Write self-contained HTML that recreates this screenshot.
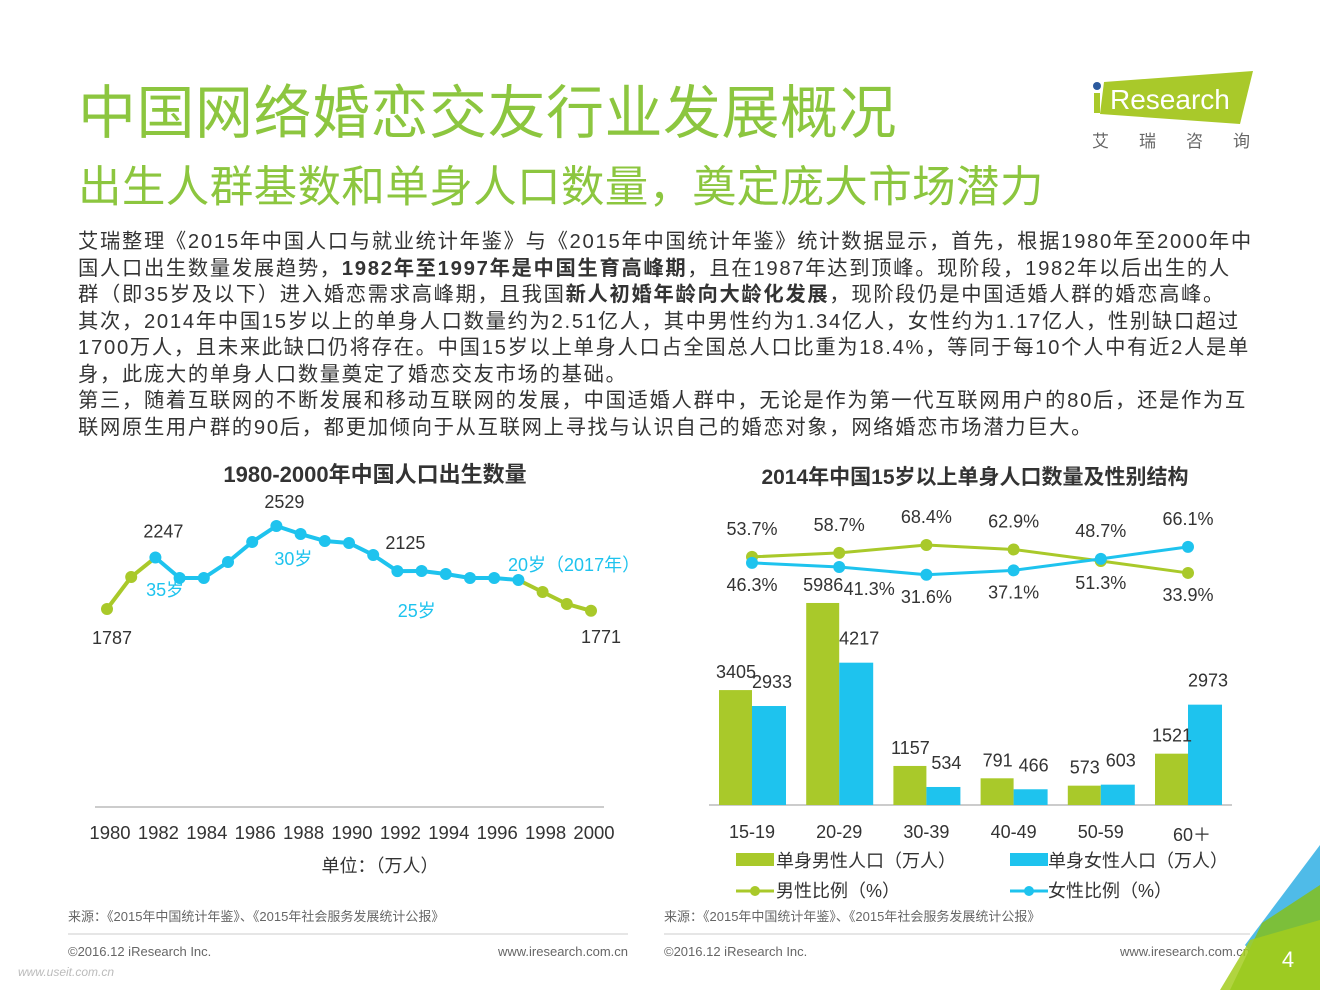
<!DOCTYPE html>
<html><head><meta charset="utf-8"><style>
body{margin:0;width:1320px;height:990px;background:#fff;overflow:hidden;position:relative;font-family:"Liberation Sans","Noto Sans CJK SC",sans-serif;color:#333}
.abs{position:absolute;white-space:nowrap}
.title{left:78px;top:66px;font-size:58px;color:#8cc63f;letter-spacing:0.5px}
.sub{left:78px;top:152px;font-size:43.5px;color:#8cc63f;letter-spacing:0.4px}
.body{left:78px;top:229px;font-size:20.3px;line-height:26.5px;color:#333;letter-spacing:1.7px}
.body b{font-weight:bold}
</style></head><body>
<div class="abs title">中国网络婚恋交友行业发展概况</div>
<div class="abs sub">出生人群基数和单身人口数量，奠定庞大市场潜力</div>
<div class="abs body">艾瑞整理《2015年中国人口与就业统计年鉴》与《2015年中国统计年鉴》统计数据显示，首先，根据1980年至2000年中<br>国人口出生数量发展趋势，<b>1982年至1997年是中国生育高峰期</b>，且在1987年达到顶峰。现阶段，1982年以后出生的人<br>群（即35岁及以下）进入婚恋需求高峰期，且我国<b>新人初婚年龄向大龄化发展</b>，现阶段仍是中国适婚人群的婚恋高峰。<br>其次，2014年中国15岁以上的单身人口数量约为2.51亿人，其中男性约为1.34亿人，女性约为1.17亿人，性别缺口超过<br>1700万人，且未来此缺口仍将存在。中国15岁以上单身人口占全国总人口比重为18.4%，等同于每10个人中有近2人是单<br>身，此庞大的单身人口数量奠定了婚恋交友市场的基础。<br>第三，随着互联网的不断发展和移动互联网的发展，中国适婚人群中，无论是作为第一代互联网用户的80后，还是作为互<br>联网原生用户群的90后，都更加倾向于从互联网上寻找与认识自己的婚恋对象，网络婚恋市场潜力巨大。</div>

<svg class="abs" style="left:0;top:0" width="1320" height="990">
<g>
<polygon points="1104,82 1253,71 1240,124 1100,114" fill="#a9c92a"/>
<circle cx="1097" cy="86" r="4" fill="#2c5a9e"/>
<rect x="1094" y="93" width="6" height="20" fill="#a9c92a"/>
<text x="1110" y="109" font-size="28" fill="#fff" font-family="Liberation Sans,sans-serif">Research</text>
<text x="1092" y="147" font-size="17" fill="#666" font-family="Noto Sans CJK SC,sans-serif" letter-spacing="30">艾瑞咨询</text>
</g>
<text x="375" y="482" text-anchor="middle" font-size="22" font-weight="bold" fill="#333">1980-2000年中国人口出生数量</text>
<text x="975" y="484" text-anchor="middle" font-size="21" font-weight="bold" fill="#333">2014年中国15岁以上单身人口数量及性别结构</text>
<line x1="95" y1="807" x2="604" y2="807" stroke="#999" stroke-width="1"/>
<g id="leftChart"></g>
<text x="380" y="872" text-anchor="middle" font-size="18" fill="#333">单位：（万人）</text>
<line x1="709" y1="805" x2="1232" y2="805" stroke="#999" stroke-width="1"/>
<g id="rightChart"></g>
<g font-size="18" fill="#333">
<rect x="736" y="853" width="38" height="13" fill="#a9c92a"/><text x="776" y="867">单身男性人口（万人）</text>
<rect x="1010" y="853" width="38" height="13" fill="#1ec3ee"/><text x="1048" y="867">单身女性人口（万人）</text>
<line x1="736" y1="891" x2="774" y2="891" stroke="#a9c92a" stroke-width="3"/><circle cx="755" cy="891" r="5" fill="#a9c92a"/><text x="776" y="897">男性比例（%）</text>
<line x1="1010" y1="891" x2="1048" y2="891" stroke="#1ec3ee" stroke-width="3"/><circle cx="1029" cy="891" r="5" fill="#1ec3ee"/><text x="1048" y="897">女性比例（%）</text>
</g>
<g font-size="13" fill="#666">
<text x="68" y="921">来源：《2015年中国统计年鉴》、《2015年社会服务发展统计公报》</text>
<text x="664" y="921">来源：《2015年中国统计年鉴》、《2015年社会服务发展统计公报》</text>
<line x1="68" y1="934" x2="628" y2="934" stroke="#ccc"/>
<line x1="664" y1="934" x2="1250" y2="934" stroke="#ccc"/>
<text x="68" y="956" font-family="Liberation Sans,sans-serif">©2016.12 iResearch Inc.</text>
<text x="628" y="956" text-anchor="end" font-family="Liberation Sans,sans-serif">www.iresearch.com.cn</text>
<text x="664" y="956" font-family="Liberation Sans,sans-serif">©2016.12 iResearch Inc.</text>
<text x="1250" y="956" text-anchor="end" font-family="Liberation Sans,sans-serif">www.iresearch.com.cn</text>
<text x="18" y="976" font-size="12" fill="#bbb" font-style="italic">www.useit.com.cn</text>
</g>
<g>
<polygon points="1245,945 1320,845 1320,990 1280,990" fill="#4fbbe8"/>
<polygon points="1262,923 1320,885 1320,990 1230,990" fill="#7cbf3a"/>
<polygon points="1250,940 1320,920 1320,990 1220,990" fill="#a3cc1e" opacity="0.85"/>
<text x="1288" y="967" text-anchor="middle" font-size="22" fill="#fff" font-family="Liberation Sans,sans-serif">4</text>
</g>
</svg>

<script>
const years=["1980","1981","1982","1983","1984","1985","1986","1987","1988","1989","1990","1991","1992","1993","1994","1995","1996","1997","1998","1999","2000"];
const births=[1787,2073,2247,2064,2064,2207,2386,2529,2457,2395,2377,2270,2125,2127,2100,2064,2064,2046,1939,1832,1771];
const xTicks=["1980","1982","1984","1986","1988","1990","1992","1994","1996","1998","2000"];
const ageGroups=["15-19","20-29","30-39","40-49","50-59","60＋"];
const malePop=[3405,5986,1157,791,573,1521];
const femalePop=[2933,4217,534,466,603,2973];
const maleRatio=[53.7,58.7,68.4,62.9,48.7,33.9];
const femaleRatio=[46.3,41.3,31.6,37.1,51.3,66.1];

const NS="http://www.w3.org/2000/svg";
function mk(p,t,a){const e=document.createElementNS(NS,t);for(const k in a)e.setAttribute(k,a[k]);p.appendChild(e);return e;}
const G="#a9c92a",B="#1ec3ee";

// left chart
const L=document.getElementById('leftChart');
const lx=i=>107+i*24.2;
const ly=v=>609-(v-1787)*0.1119;
function segColor(i){return (i<2||i>=17)?G:B;}
for(let i=0;i<births.length-1;i++){
  const s=mk(L,'line',{x1:lx(i),y1:ly(births[i]),x2:lx(i+1),y2:ly(births[i+1]),stroke:segColor(i),'stroke-width':4});
  
  
}
births.forEach((v,i)=>{
  const c=mk(L,'circle',{cx:lx(i),cy:ly(v),r:6,fill:(i<2||i>17)?G:B});
  
  
});
const lblIdx=[[0,20],[2,-20],[7,-18],[12,-22],[20,32]];
lblIdx.forEach(([i,dy])=>{
  const t=mk(L,'text',{x:lx(i)+(i==0?5:i==20?10:8),y:ly(births[i])+dy+(i==0?15:0),'text-anchor':'middle','font-size':18,fill:'#333'});
  t.textContent=births[i];
  
  
});
[["35岁",2.4,590],["30岁",7.7,559],["25岁",12.8,611],["20岁（2017年）",19.3,565]].forEach(([s,i,y])=>{
  const t=mk(L,'text',{x:lx(i),y:y+6,'text-anchor':'middle','font-size':18,fill:B});
  t.textContent=s;
  
  
});
xTicks.forEach((s,k)=>{
  const i=years.indexOf(s);
  const t=mk(L,'text',{x:lx(i)+3,y:839,'text-anchor':'middle','font-size':18.5,fill:'#333'});
  t.textContent=s;
  
  
});

// right chart
const R=document.getElementById('rightChart');
const cx=i=>752+i*87.2;
const by=v=>805-v*0.03375;
const ry=v=>600.4-v*0.81;
ageGroups.forEach((g,i)=>{
  const m=mk(R,'rect',{x:cx(i)-33,y:by(malePop[i]),width:33,height:805-by(malePop[i]),fill:G});
  
  
  const f=mk(R,'rect',{x:cx(i),y:by(femalePop[i]),width:34,height:805-by(femalePop[i]),fill:B});
  
  
  const t1=mk(R,'text',{x:cx(i)-16,y:by(malePop[i])-12,'text-anchor':'middle','font-size':18,fill:'#333'});
  t1.textContent=malePop[i];
  
  
  const t2=mk(R,'text',{x:cx(i)+20,y:by(femalePop[i])-18,'text-anchor':'middle','font-size':18,fill:'#333'});
  t2.textContent=femalePop[i];
  
  
  const t3=mk(R,'text',{x:cx(i)+(i==5?4:0),y:838+(i==5?3:0),'text-anchor':'middle','font-size':18,fill:'#333'});
  t3.textContent=g;
  
  
});
[[maleRatio,G,'male-ratio'],[femaleRatio,B,'female-ratio']].forEach(([arr,col,nm])=>{
  const p=mk(R,'polyline',{points:arr.map((v,i)=>cx(i)+','+ry(v)).join(' '),fill:'none',stroke:col,'stroke-width':3});
  
  
  arr.forEach((v,i)=>{
    const c=mk(R,'circle',{cx:cx(i),cy:ry(v),r:6,fill:col});
    
    
  });
});
ageGroups.forEach((g,i)=>{
  const mUp=i<5;
  const top=Math.min(ry(maleRatio[i]),ry(femaleRatio[i]));
  const bot=Math.max(ry(maleRatio[i]),ry(femaleRatio[i]));
  const pairs=[[maleRatio[i],mUp],[femaleRatio[i],!mUp]];
  pairs.forEach(([v,up])=>{
    const y=up?top-22:bot+28;
    const dx=(i==1&&!up)?30:0;
    const t=mk(R,'text',{x:cx(i)+dx,y:y,'text-anchor':'middle','font-size':18,fill:'#333'});
    t.textContent=v.toFixed(1)+'%';
    
    
  });
});
</script>
</body></html>
